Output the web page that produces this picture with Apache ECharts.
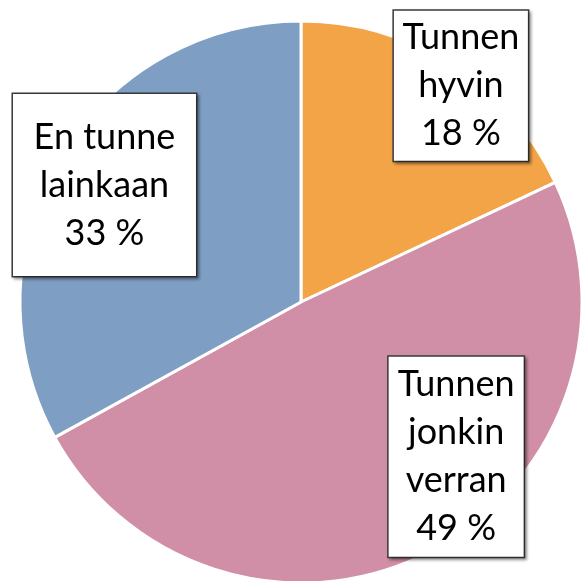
<!DOCTYPE html>
<html>
<head>
	<meta charset="utf-8">
	<title>Tuntemus</title>
	<script src="https://cdn.jsdelivr.net/npm/echarts@6/dist/echarts.min.js"></script>
	<style>
		html, body { margin: 0; padding: 0; background: #fff; }
	</style>
</head>
<body>
	<div id="main" style="width: 585px;height:581px;"></div>
	<script type="text/javascript">
	var names = ['Tunnen\nhyvin', 'Tunnen\njonkin\nverran', 'En tunne\nlainkaan'];
	var values = [18, 49, 33];
	var colors = ['#F2A447', '#D08FA6', '#7F9EC3'];

	// label box tweaks (offset from slice middle, padding, content width)
	var labelOffsets = [[83, -95], [90, 27], [-73, -44]];
	var labelPads = [[3, 6], [4, 6], [19, 20]];
	var labelWidths = [122, 123, 143];

	var myChart = echarts.init(document.getElementById('main'));

	var data = values.map(function(v, i) {
		return {
			name: names[i],
			value: v,
			itemStyle: { color: colors[i] },
			label: {
				offset: labelOffsets[i],
				padding: labelPads[i],
				width: labelWidths[i]
			}
		};
	});

	var option = {
		animation: false,
		series: [{
			type: 'pie',
			center: [301, 302],
			radius: 281,
			startAngle: 90,
			clockwise: true,
			itemStyle: {
				borderColor: '#fff',
				borderWidth: 3
			},
			label: {
				show: true,
				position: 'inside',
				formatter: '{b}\n{c} %',
				fontFamily: 'Lato',
				fontSize: 36,
				lineHeight: 48,
				color: '#000',
				align: 'center',
				backgroundColor: '#fff',
				borderColor: '#3a3a3a',
				borderWidth: 1.5,
				shadowColor: 'rgba(0,0,0,0.35)',
				shadowBlur: 3,
				shadowOffsetX: 2,
				shadowOffsetY: 2
			},
			labelLine: { show: false },
			emphasis: { disabled: true },
			data: data
		}]
	};

	myChart.setOption(option);
	</script>
</body>
</html>
